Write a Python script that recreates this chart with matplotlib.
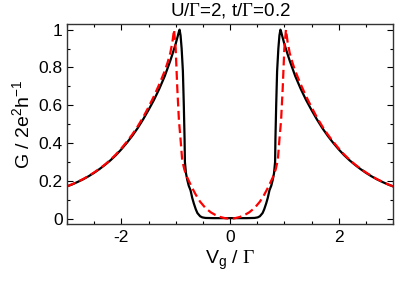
import numpy as np
import matplotlib
matplotlib.use("Agg")
import matplotlib.pyplot as plt
from matplotlib.ticker import MultipleLocator

plt.rcParams['font.family'] = ['Liberation Sans', 'DejaVu Sans']
plt.rcParams['mathtext.fontset'] = 'custom'
plt.rcParams['mathtext.rm'] = 'Liberation Serif'
plt.rcParams['mathtext.sf'] = 'Liberation Sans'
plt.rcParams['mathtext.it'] = 'Liberation Sans:italic'
plt.rcParams['axes.unicode_minus'] = False

# left half of each curve (Vg <= 0), curves are symmetric in Vg
vg_red = [-3.0, -2.9, -2.8, -2.7, -2.6, -2.5, -2.4, -2.3, -2.2, -2.1, -2.0, -1.9,
          -1.8, -1.7, -1.6, -1.5, -1.4, -1.3, -1.2, -1.15, -1.1, -1.06, -1.03,
          -1.0, -0.97, -0.94, -0.91, -0.88, -0.84, -0.79, -0.7, -0.63, -0.55,
          -0.45, -0.35, -0.27, -0.18, -0.08, 0.0]
g_red = [0.171, 0.183, 0.196, 0.210, 0.227, 0.245, 0.265, 0.287, 0.312, 0.340, 0.372, 0.407,
         0.445, 0.488, 0.536, 0.590, 0.648, 0.712, 0.782, 0.825, 0.875, 0.935, 1.0,
         0.90, 0.69, 0.52, 0.42, 0.31, 0.26, 0.22, 0.165, 0.127, 0.09,
         0.056, 0.033, 0.02, 0.009, 0.002, 0.0]

vg_blk = [-3.0, -2.9, -2.8, -2.7, -2.6, -2.5, -2.4, -2.3, -2.2, -2.1, -2.0, -1.9,
          -1.8, -1.7, -1.6, -1.5, -1.4, -1.3, -1.2, -1.1, -1.06, -1.0,
          -0.97, -0.94, -0.928, -0.91, -0.89, -0.867, -0.85, -0.836, -0.83, -0.81,
          -0.787, -0.76, -0.726, -0.695, -0.665, -0.63, -0.60, -0.55, -0.51, -0.45,
          -0.3, 0.0]
g_blk = [0.171, 0.182, 0.195, 0.209, 0.225, 0.243, 0.263, 0.285, 0.309, 0.336, 0.367, 0.401,
         0.438, 0.479, 0.525, 0.575, 0.628, 0.688, 0.755, 0.835, 0.87, 0.925,
         0.957, 0.99, 1.0, 0.97, 0.90, 0.78, 0.60, 0.42, 0.30, 0.24,
         0.206, 0.175, 0.15, 0.11, 0.08, 0.05, 0.03, 0.013, 0.007, 0.004,
         0.003, 0.003]

def mirror(x, y):
    x = np.array(x); y = np.array(y)
    return np.concatenate([x, -x[-2::-1]]), np.concatenate([y, y[-2::-1]])

xr, yr = mirror(vg_red, g_red)
xb, yb = mirror(vg_blk, g_blk)

fig = plt.figure(figsize=(3.95, 2.84), dpi=100)
ax = fig.add_axes([67/395, 60/284, 326/395, 200/284])
ax.plot(xb, yb, '-', color='k', lw=1.6)
ax.plot(xr, yr, '--', color='#ff0000', lw=1.6, dashes=(4, 2))

ax.set_xlim(-3, 3)
ax.set_ylim(-0.028, 1.03)
ax.xaxis.set_major_locator(MultipleLocator(2))
ax.xaxis.set_minor_locator(MultipleLocator(0.5))
ax.yaxis.set_minor_locator(MultipleLocator(0.1))
ax.set_yticks([0, 0.2, 0.4, 0.6, 0.8, 1.0])
ax.set_yticklabels(['0', '0.2', '0.4', '0.6', '0.8', '1'])
ax.tick_params(which='both', direction='in', top=True, right=True, labelsize=12.5, width=0.8)
ax.tick_params(which='major', length=4, pad=3)
ax.tick_params(which='minor', length=2.5)
ax.tick_params(axis='x', pad=4)
for s in ax.spines.values():
    s.set_linewidth(1.0)
    s.set_color('#333333')

ax.set_xlabel(r'V$_\mathsf{g}$ / $\Gamma$', fontsize=14, labelpad=3)
ax.set_ylabel(r'G / 2e$^\mathsf{2}$h$^\mathsf{-1}$', fontsize=14, labelpad=4)
ax.set_title(r'U/$\Gamma$=2, t/$\Gamma$=0.2', fontsize=13.5, pad=6)

plt.savefig('out.png', dpi=100)
